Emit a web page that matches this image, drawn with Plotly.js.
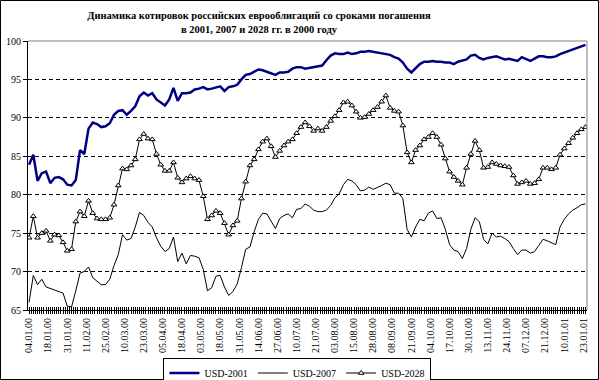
<!DOCTYPE html>
<html><head><meta charset="utf-8">
<script src="https://cdn.plot.ly/plotly-3.0.1.min.js"></script>
<style>body{margin:0;background:#fff}#chart{width:599px;height:380px}</style>
</head><body><div id="chart"></div>
<script>
// Category labels shown every 9 trading days
const tickLabels = ["04.01.00","18.01.00","31.01.00","11.02.00","25.02.00","10.03.00","23.03.00","05.04.00","18.04.00","03.05.00","18.05.00","31.05.00","14.06.00","27.06.00","10.07.00","21.07.00","03.08.00","15.08.00","28.08.00","08.09.00","21.09.00","04.10.00","17.10.00","30.10.00","13.11.00","24.11.00","07.12.00","21.12.00","10.01.01","23.01.01"];
const tickEvery = 9;      // trading days between labels
const sampleEvery = 2;    // trading days between read samples

const usd2001 = [83.9,85.2,81.8,82.8,83.0,81.5,82.2,82.3,82.0,81.3,81.2,81.9,85.8,85.3,88.6,89.4,89.2,88.8,88.9,89.3,90.4,90.9,91.0,90.4,90.9,91.5,92.8,93.3,92.9,93.2,92.4,92.0,91.6,92.4,93.9,92.2,93.2,93.2,93.3,93.7,93.8,94.0,93.7,93.8,94.0,94.1,93.5,94.0,94.1,94.3,95.0,95.6,95.7,96.0,96.3,96.2,96.0,95.8,95.6,95.9,95.9,96.0,96.4,96.6,96.6,96.4,96.5,96.6,96.7,96.8,97.5,98.1,98.4,98.3,98.3,98.5,98.3,98.4,98.6,98.6,98.7,98.6,98.5,98.4,98.3,98.2,97.9,97.7,97.2,96.4,95.9,96.5,97.0,97.3,97.3,97.4,97.3,97.3,97.2,97.2,97.0,97.3,97.4,97.6,98.1,98.2,97.8,97.6,97.8,97.9,98.0,97.8,97.6,97.7,97.6,97.4,97.9,97.7,97.4,97.7,98.0,98.0,97.9,97.9,98.0,98.3,98.5,98.7,98.9,99.1,99.2,99.5];
const usd2007 = [66.0,69.5,68.3,69.0,68.0,67.8,67.6,67.4,67.2,65.5,65.4,67.5,69.8,70.0,70.6,69.2,68.8,68.3,68.3,69.0,70.8,72.2,74.8,74.1,74.3,75.8,77.7,77.3,76.4,75.8,74.4,73.3,72.6,73.0,74.5,71.3,72.4,71.0,72.1,72.0,71.8,70.3,67.5,67.9,69.4,69.5,68.0,66.9,67.4,68.4,70.5,72.9,73.2,75.2,76.8,77.6,77.5,76.6,75.6,76.9,77.3,77.5,77.0,78.1,78.2,78.8,78.5,78.0,77.8,77.8,78.0,78.6,79.6,80.1,81.3,82.0,81.8,81.3,80.5,80.6,81.0,80.7,80.9,81.2,81.5,81.3,80.2,80.2,79.5,75.5,74.5,75.8,76.8,76.6,77.6,77.9,76.9,77.0,75.5,73.5,72.8,72.6,71.7,73.0,75.5,77.0,76.5,74.2,73.6,75.0,74.5,74.6,74.3,73.9,73.0,72.2,72.8,72.8,72.4,72.6,73.4,74.2,74.0,73.8,73.5,75.8,76.8,77.5,78.0,78.3,78.7,78.8];
const usd2028 = [74.4,77.2,74.4,75.0,75.3,74.0,74.8,74.7,73.8,72.7,72.9,76.5,77.8,77.2,79.2,77.6,76.9,76.8,76.8,77.0,78.7,81.2,83.4,83.3,83.8,84.6,87.2,87.9,87.3,87.2,85.3,83.9,83.1,83.1,84.2,82.2,81.6,82.1,82.4,82.1,81.9,79.8,76.8,77.3,77.9,77.6,76.3,74.8,76.0,76.6,79.5,81.7,83.8,84.6,85.9,86.9,87.3,86.3,84.9,85.7,86.4,86.9,87.2,88.0,88.8,89.4,88.9,88.3,88.6,88.3,88.8,89.6,90.2,91.0,92.0,92.1,91.6,90.8,90.0,90.1,90.5,91.0,91.4,92.1,92.9,91.3,90.9,90.8,89.0,85.5,84.2,85.8,86.4,87.2,87.5,88.0,87.5,86.5,84.7,83.0,82.3,81.8,81.3,83.5,85.3,87.0,85.8,83.5,83.6,84.2,84.0,83.8,83.7,83.6,82.5,81.4,81.6,81.8,81.4,81.5,82.0,83.5,83.5,83.3,83.5,85.2,86.0,86.7,87.4,88.0,88.5,88.8];
const seriesNames = ["USD-2001","USD-2007","USD-2028"];

const xs = usd2001.map((_, k) => k * sampleEvery);
const tickVals = tickLabels.map((_, k) => k * tickEvery);
const serif = "Liberation Serif, Times New Roman, serif";
const xRange = [-0.5, 262.7];

const traces = [
  {x: xs, y: usd2001, name: seriesNames[0], type: "scatter", mode: "lines",
   line: {color: "#000080", width: 2.5}},
  {x: xs, y: usd2007, name: seriesNames[1], type: "scatter", mode: "lines",
   line: {color: "#000000", width: 1}},
  {x: xs, y: usd2028, name: seriesNames[2], type: "scatter", mode: "lines+markers",
   line: {color: "#000000", width: 1},
   marker: {symbol: "triangle-up", size: 5, color: "#ffffff", line: {color: "#000000", width: 1}}},
  {x: [], y: [], xaxis: "x2", yaxis: "y", showlegend: false, hoverinfo: "skip", type: "scatter"}
];

const layout = {
  width: 599, height: 380,
  margin: {l: 28, r: 12, t: 41, b: 70, autoexpand: false},
  paper_bgcolor: "#ffffff", plot_bgcolor: "#ffffff",
  font: {family: serif, size: 10, color: "#000"},
  title: {
    text: "<b>Динамика котировок российских еврооблигаций со сроками погашения<br>в 2001, 2007 и 2028 гг. в 2000 году</b>",
    font: {family: serif, size: 10.5, color: "#000"},
    x: 259 / 599, xref: "container", xanchor: "center",
    y: 1 - 19 / 380, yref: "container", yanchor: "middle"
  },
  xaxis: {
    type: "linear", range: xRange,
    tickmode: "array", tickvals: tickVals, ticktext: tickLabels,
    tickangle: -90, tickfont: {family: serif, size: 10},
    ticks: "outside", ticklen: 3, tickcolor: "#000",
    minor: {tickmode: "linear", tick0: 0, dtick: 1, ticks: "outside", ticklen: 3, tickcolor: "#000", showgrid: false},
    showline: true, linecolor: "#000", linewidth: 1,
    showgrid: false, zeroline: false, fixedrange: true, automargin: false
  },
  xaxis2: {
    type: "linear", range: xRange, overlaying: "x", anchor: "y", side: "bottom",
    tickmode: "array", tickvals: tickVals, showticklabels: false,
    ticks: "inside", ticklen: 3, tickcolor: "#000",
    minor: {tickmode: "linear", tick0: 0, dtick: 1, ticks: "inside", ticklen: 3, tickcolor: "#000", showgrid: false},
    showline: false, showgrid: false, zeroline: false, fixedrange: true
  },
  yaxis: {
    range: [65, 100], tickmode: "linear", tick0: 65, dtick: 5,
    ticks: "outside", ticklen: 4, tickcolor: "#000",
    tickfont: {family: serif, size: 10},
    showline: true, linecolor: "#000", linewidth: 1,
    showgrid: true, gridcolor: "#000", gridwidth: 1, griddash: "4px,3px",
    zeroline: false, fixedrange: true, automargin: false
  },
  shapes: [
    {type: "line", xref: "paper", yref: "paper", x0: 0, x1: 1, y0: 1, y1: 1,
     line: {color: "#808080", width: 1}, layer: "above"},
    {type: "line", xref: "paper", yref: "paper", x0: 1, x1: 1, y0: 0, y1: 1,
     line: {color: "#808080", width: 1}, layer: "above"},
    {type: "rect", xref: "paper", yref: "paper",
     x0: (0.5 - 28) / 559, x1: (598.5 - 28) / 559,
     y0: (310 - 379.5) / 269, y1: (310 - 0.5) / 269,
     line: {color: "#000", width: 1}, fillcolor: "rgba(0,0,0,0)", layer: "above"}
  ],
  showlegend: true,
  legend: {
    orientation: "h", x: 0.482, xanchor: "center", y: (310 - 357.5) / 269, yanchor: "top",
    bordercolor: "#000", borderwidth: 1, bgcolor: "#fff",
    font: {family: serif, size: 10, color: "#000"},
    itemwidth: 30, tracegroupgap: 0
  }
};

Plotly.newPlot("chart", traces, layout, {displayModeBar: false, staticPlot: true});
</script>
</body></html>
